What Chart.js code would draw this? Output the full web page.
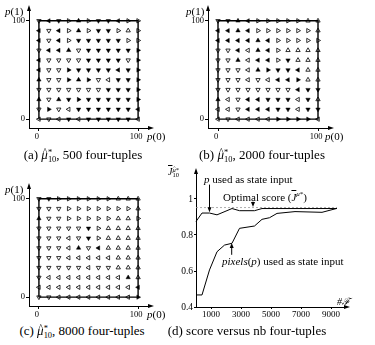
<!DOCTYPE html>
<html>
<head>
<meta charset="utf-8">
<script src="https://cdn.jsdelivr.net/npm/chart.js@4.4.1/dist/chart.umd.min.js"></script>
<style>
  body { margin: 0; background: #fff; }
  #page { position: relative; width: 375px; height: 345px; overflow: hidden; font-family: "Liberation Serif", serif; color: #000; }
  canvas { position: absolute; }
  .txt { position: absolute; white-space: nowrap; line-height: 1; }
  .cap { font-size: 13px; text-align: center; }
  .ss { display: inline-block; vertical-align: -0.3em; line-height: 0.8; font-size: 0.65em; text-align: left; }
  .ov { text-decoration: overline; font-style: italic; }
  .hat { position: relative; display: inline-block; font-style: italic; }
  .hat::after { content: "^"; position: absolute; left: 0.15em; top: -0.12em; font-size: 0.75em; font-style: normal; }
</style>
</head>
<body>
<div id="page">
  <canvas id="gridA" width="190" height="145" style="left:0;top:0"></canvas>
  <canvas id="gridB" width="190" height="145" style="left:185px;top:0"></canvas>
  <canvas id="gridC" width="190" height="145" style="left:0;top:178px"></canvas>
  <canvas id="scoreChart" width="205" height="160" style="left:170px;top:160px"></canvas>

  <div class="txt" style="left:5px;top:6px;font-size:11px"><i>p</i>(1)</div>
  <div class="txt" style="left:147px;top:131px;font-size:11px"><i>p</i>(0)</div>
  <div class="txt" style="left:186px;top:6px;font-size:11px"><i>p</i>(1)</div>
  <div class="txt" style="left:325px;top:131px;font-size:11px"><i>p</i>(0)</div>
  <div class="txt" style="left:5px;top:184px;font-size:11px"><i>p</i>(1)</div>
  <div class="txt" style="left:147px;top:309px;font-size:11px"><i>p</i>(0)</div>

  <div class="txt cap" style="left:0;width:166px;top:148px">(a) <span class="hat">μ</span><span class="ss">*<br>10</span>, 500 four-tuples</div>
  <div class="txt cap" style="left:182px;width:160px;top:148px">(b) <span class="hat">μ</span><span class="ss">*<br>10</span>, 2000 four-tuples</div>
  <div class="txt cap" style="left:0;width:164px;top:324px">(c) <span class="hat">μ</span><span class="ss">*<br>10</span>, 8000 four-tuples</div>
  <div class="txt cap" style="left:158px;width:178px;top:324px">(d) score versus nb four-tuples</div>

  <div class="txt" style="left:168px;top:167px;font-size:10px"><span class="ov">J</span><span class="ss"><span class="hat">μ</span>*<br>10</span></div>
  <div class="txt" style="left:204px;top:174px;font-size:11px"><i>p</i> used as state input</div>
  <div class="txt" style="left:223px;top:191px;font-size:11px">Optimal score (<span class="ov">J</span><sup style="font-size:7px"><i>μ</i>*</sup>)</div>
  <div class="txt" style="left:222px;top:256px;font-size:11px"><i>pixels</i>(<i>p</i>) used as state input</div>
  <div class="txt" style="left:337px;top:297px;font-size:10px;font-style:italic">#ℱ</div>
</div>
<script>
// grid of states, p(0) across and p(1) down from 100 to 0
const gridP0 = [0, 10, 20, 30, 40, 50, 60, 70, 80, 90, 100];
const gridP1 = [100, 90, 80, 70, 60, 50, 40, 30, 20, 10, 0];
const stateBox = [[0, 0], [100, 0], [100, 100], [0, 100], [0, 0]];

// action per state: U/D/L/R filled triangle, u/d/l/r hollow one
const policy500 = [
    "dLDrUrDDLrr",
    "LdLrUrDDrur",
    "LdLrDDDDDrr",
    "dLLUdDDDDDR",
    "LddddDDDDdR",
    "LddRDDDDLDR",
    "UddRURdlDDR",
    "dddddddDDDR",
    "UdUDRDDDDDR",
    "dRdlDDDDDDL",
    "ldlDlDDDDDl"
];
const policy2000 = [
    "dDULrrrrruu",
    "LLULrrrrrru",
    "LLLLULrrrrr",
    "ddLlULruuuu",
    "ddUlLLrDuuu",
    "dddlURDDLuu",
    "dddldlLLRuu",
    "ddddddddLDD",
    "UldLLDDDlDu",
    "lldLLLDDlDD",
    "ldllllRRRRl"
];
const policy8000 = [
    "dDrrrrrruuu",
    "dddrrrrrrru",
    "Uddrrrrruur",
    "dddddDruuuu",
    "dddldDruuuu",
    "dddlUdLuuuu",
    "dddllllluuu",
    "dddddldduuu",
    "dllllllllUu",
    "llllllllllL",
    "ddllllllllR"
];

// score curves
const pInputX = [0, 400, 900, 1400, 2400, 2900, 3900, 4400, 9400];
const pInputY = [0.875, 0.922, 0.922, 0.912, 0.947, 0.935, 0.935, 0.947, 0.947];
const pixelsX = [0, 400, 900, 1400, 1900, 2400, 2900, 3900, 4400, 4900, 5400, 6600, 8400, 9400];
const pixelsY = [0.467, 0.467, 0.606, 0.707, 0.744, 0.754, 0.837, 0.85, 0.887, 0.896, 0.92, 0.93, 0.926, 0.948];
const optimalScore = 0.952;
const optimalX = [0, 9400];
const scoreTicksX = [1000, 3000, 5000, 7000, 9000];
const scoreTicksY = [0.4, 0.6, 0.8, 1];

// little arrows pointing at the curves (x, from y, to y)
const pointerX = [900, 3800, 2380];
const pointerFrom = [1.08, 0.985, 0.69];
const pointerTo = [0.926, 0.956, 0.755];

Chart.defaults.font.family = "'Liberation Serif', serif";
Chart.defaults.color = "#000";

const dirAngle = { U: 0, R: 90, D: 180, L: 270 };

// arrow heads at the ends of both axes
const axisArrows = {
    id: "axisArrows",
    afterDraw(chart) {
        const { ctx, chartArea: a } = chart;
        ctx.save();
        ctx.fillStyle = "#000";
        ctx.beginPath();
        ctx.moveTo(a.right + 4, a.bottom);
        ctx.lineTo(a.right - 2, a.bottom - 2);
        ctx.lineTo(a.right - 2, a.bottom + 2);
        ctx.fill();
        ctx.beginPath();
        ctx.moveTo(a.left, a.top - 4);
        ctx.lineTo(a.left - 2, a.top + 2);
        ctx.lineTo(a.left + 2, a.top + 2);
        ctx.fill();
        ctx.restore();
    }
};

function policyDataset(codes, filled) {
    const pts = [];
    const rot = [];
    codes.forEach((row, i) => {
        [...row].forEach((c, j) => {
            const isFilled = c === c.toUpperCase();
            if (isFilled !== filled) return;
            pts.push({ x: gridP0[j], y: gridP1[i] });
            rot.push(dirAngle[c.toUpperCase()]);
        });
    });
    return {
        data: pts,
        showLine: false,
        pointStyle: "triangle",
        pointRotation: rot,
        pointRadius: 2.5,
        pointBackgroundColor: filled ? "#000" : "rgba(0,0,0,0)",
        pointBorderColor: "#000",
        pointBorderWidth: filled ? 0.5 : 0.8,
        order: 1
    };
}

function fixedAxis(size, vertical) {
    return scale => {
        if (vertical) scale.width = size; else scale.height = size;
    };
}

function makeGrid(id, codes, yAxisWidth, padRight) {
    new Chart(document.getElementById(id), {
        type: "scatter",
        data: {
            datasets: [
                policyDataset(codes, true),
                policyDataset(codes, false),
                {
                    data: stateBox.map(p => ({ x: p[0], y: p[1] })),
                    showLine: true,
                    borderColor: "#000",
                    borderWidth: 1.4,
                    pointRadius: 0,
                    order: 2
                }
            ]
        },
        options: {
            responsive: false,
            animation: false,
            events: [],
            layout: { padding: { top: 9, right: padRight, left: 0, bottom: 0 } },
            plugins: { legend: { display: false }, tooltip: { enabled: false } },
            scales: {
                x: {
                    type: "linear",
                    min: -10,
                    max: 112,
                    afterBuildTicks: s => { s.ticks = [{ value: 0 }, { value: 100 }]; },
                    afterFit: fixedAxis(17, false),
                    grid: { drawOnChartArea: false, tickLength: 3, color: "#000" },
                    border: { color: "#000", width: 1 },
                    ticks: { font: { size: 8.5 }, padding: 1, maxRotation: 0, labelOffset: -2 }
                },
                y: {
                    type: "linear",
                    min: -9,
                    max: 112,
                    afterBuildTicks: s => { s.ticks = [{ value: 0 }, { value: 100 }]; },
                    afterFit: fixedAxis(yAxisWidth, true),
                    grid: { drawOnChartArea: false, tickLength: 3, color: "#000" },
                    border: { color: "#000", width: 1 },
                    ticks: { font: { size: 8.5 }, padding: 1 }
                }
            }
        },
        plugins: [axisArrows]
    });
}

document.addEventListener("DOMContentLoaded", () => {
    makeGrid("gridA", policy500, 29, 40);
    makeGrid("gridB", policy2000, 23, 45);
    makeGrid("gridC", policy8000, 29, 40);

    const pointers = {
        id: "pointers",
        afterDatasetsDraw(chart) {
            const { ctx, scales } = chart;
            ctx.save();
            ctx.strokeStyle = "#000";
            ctx.fillStyle = "#000";
            ctx.lineWidth = 1;
            pointerX.forEach((xv, i) => {
                const x = scales.x.getPixelForValue(xv);
                const y1 = scales.y.getPixelForValue(pointerFrom[i]);
                const y2 = scales.y.getPixelForValue(pointerTo[i]);
                const dir = y2 > y1 ? 1 : -1;
                ctx.beginPath();
                ctx.moveTo(x, y1);
                ctx.lineTo(x, y2 - dir * 4);
                ctx.stroke();
                ctx.beginPath();
                ctx.moveTo(x, y2);
                ctx.lineTo(x - 2, y2 - dir * 5);
                ctx.lineTo(x + 2, y2 - dir * 5);
                ctx.fill();
            });
            ctx.restore();
        }
    };

    new Chart(document.getElementById("scoreChart"), {
        type: "scatter",
        data: {
            datasets: [
                {
                    label: "p used as state input",
                    data: pInputX.map((x, i) => ({ x, y: pInputY[i] })),
                    showLine: true,
                    borderColor: "#000",
                    borderWidth: 1,
                    pointRadius: 0,
                    clip: false
                },
                {
                    label: "pixels(p) used as state input",
                    data: pixelsX.map((x, i) => ({ x, y: pixelsY[i] })),
                    showLine: true,
                    borderColor: "#000",
                    borderWidth: 1,
                    pointRadius: 0,
                    clip: false
                },
                {
                    label: "Optimal score",
                    data: optimalX.map(x => ({ x, y: optimalScore })),
                    showLine: true,
                    borderColor: "#999",
                    borderWidth: 0.8,
                    borderDash: [2, 2],
                    pointRadius: 0
                }
            ]
        },
        options: {
            responsive: false,
            animation: false,
            events: [],
            layout: { padding: { top: 12, right: 29, left: 0, bottom: 0 } },
            plugins: { legend: { display: false }, tooltip: { enabled: false } },
            scales: {
                x: {
                    type: "linear",
                    min: 0,
                    max: 10000,
                    afterBuildTicks: s => { s.ticks = scoreTicksX.map(v => ({ value: v })); },
                    afterFit: fixedAxis(13, false),
                    grid: { drawOnChartArea: false, tickLength: 2, color: "#000" },
                    border: { color: "#000", width: 1 },
                    ticks: { font: { size: 9 }, padding: 0, maxRotation: 0, callback: v => String(v) }
                },
                y: {
                    type: "linear",
                    min: 0.4,
                    max: 1.15,
                    afterBuildTicks: s => { s.ticks = scoreTicksY.map(v => ({ value: v })); },
                    afterFit: fixedAxis(26, true),
                    grid: { drawOnChartArea: false, tickLength: 2, color: "#000" },
                    border: { color: "#000", width: 1 },
                    ticks: {
                        font: { size: 9.5 },
                        padding: 1,
                        callback: v => (v === 1 ? "1" : v.toFixed(1))
                    }
                }
            }
        },
        plugins: [axisArrows, pointers]
    });
});
</script>
</body>
</html>
